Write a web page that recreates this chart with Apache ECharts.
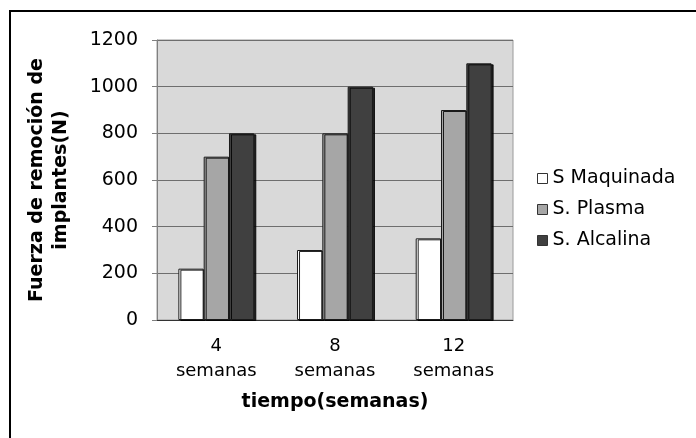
<!DOCTYPE html>
<html>
<head>
<meta charset="utf-8">
<script src="https://cdn.jsdelivr.net/npm/echarts@6/dist/echarts.min.js"></script>
<style>html,body{margin:0;padding:0;background:#fff}#c{width:696px;height:438px}</style>
</head>
<body>
<div id="c"></div>
<script>
const categories = ['4\nsemanas', '8\nsemanas', '12\nsemanas'];
const seriesNames = ['S Maquinada', 'S. Plasma', 'S. Alcalina'];
const maquinada = [220, 300, 350];
const plasma = [700, 800, 900];
const alcalina = [800, 1000, 1100];
const yTicks = [0, 200, 400, 600, 800, 1000, 1200];
const colors = ['#ffffff', '#a6a6a6', '#404040'];
const font = 'DejaVu Sans, Verdana, sans-serif';

const chart = echarts.init(document.getElementById('c'), null, {renderer: 'canvas'});
const dataSets = [maquinada, plasma, alcalina];
const barStyle = (c) => ({
  color: c, borderColor: '#1a1a1a', borderWidth: 1,
  shadowColor: 'rgba(0,0,0,0.85)', shadowOffsetX: 2, shadowOffsetY: 1, shadowBlur: 0
});
chart.setOption({
  animation: false,
  textStyle: {fontFamily: font, color: '#000'},
  grid: {left: 157, right: 183, top: 40, bottom: 118, show: true,
         backgroundColor: '#d9d9d9', borderColor: '#9a9a9a', borderWidth: 1},
  legend: {
    orient: 'vertical', left: 532, top: 164, itemWidth: 10, itemHeight: 10, itemGap: 12,
    icon: 'rect',
    itemStyle: {borderColor: '#333', borderWidth: 1, shadowBlur: 0, shadowOffsetX: 0, shadowOffsetY: 0, shadowColor: 'transparent'},
    textStyle: {fontFamily: font, fontSize: 19, color: '#000', padding: [0, 0, 0, 0]},
    data: seriesNames
  },
  xAxis: {
    type: 'category', data: categories,
    name: 'tiempo(semanas)', nameLocation: 'middle', nameGap: 73,
    nameTextStyle: {fontFamily: font, fontWeight: 'bold', fontSize: 19, color: '#000'},
    axisLine: {lineStyle: {color: '#333', width: 1}},
    axisTick: {inside: true, length: 6, lineStyle: {color: '#333'}},
    axisLabel: {fontFamily: font, fontSize: 18, color: '#000', lineHeight: 25, margin: 14}
  },
  yAxis: {
    type: 'value', min: yTicks[0], max: yTicks[yTicks.length - 1], interval: 200,
    name: 'Fuerza de remoción de\nimplantes(N)', nameLocation: 'middle', nameGap: 84, nameRotate: 90,
    nameTextStyle: {fontFamily: font, fontWeight: 'bold', fontSize: 19, color: '#000', lineHeight: 24},
    axisLine: {show: true, lineStyle: {color: '#808080'}},
    axisTick: {show: true, length: 5, lineStyle: {color: '#808080'}},
    splitLine: {lineStyle: {color: '#6e6e6e', width: 1}},
    axisLabel: {fontFamily: font, fontSize: 19, color: '#000', margin: 19,
                formatter: (v) => String(v)}
  },
  series: seriesNames.map((n, i) => ({
    name: n, type: 'bar', data: dataSets[i],
    barGap: '0%', barCategoryGap: '36%',
    itemStyle: barStyle(colors[i])
  })),
  graphic: [{
    type: 'rect', shape: {x: 10, y: 11, width: 720, height: 460},
    style: {fill: null, stroke: '#000', lineWidth: 2}, silent: true, z: 100
  }]
});
</script>
</body>
</html>
